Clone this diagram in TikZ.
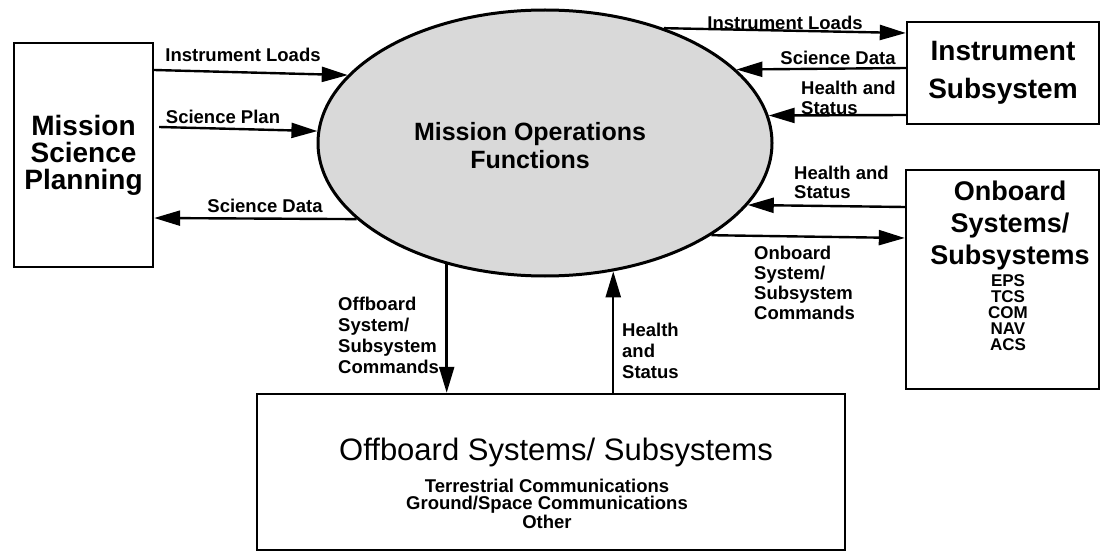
\documentclass[tikz,border=0pt]{standalone}
\usepackage{fontspec}
\setmainfont{Liberation Sans}
\usetikzlibrary{shapes.geometric,arrows.meta}
\begin{document}
\begin{tikzpicture}[x=1pt,y=-1pt,
  box/.style={draw,line width=2.4pt,inner sep=0pt},
  conn/.style={line width=2.4pt,-{Triangle[length=26pt,width=15pt]}},
  lbl/.style={font=\fontsize{18.5}{20}\selectfont\bfseries,inner sep=0pt,align=left},
  bigb/.style={font=\fontsize{28}{27}\selectfont\bfseries,align=center},
  smallb/.style={font=\fontsize{17}{16}\selectfont\bfseries,align=center,inner sep=0pt}
]
\useasboundingbox (0,0) rectangle (1103,559);

% main ellipse
\node[ellipse,draw,line width=3pt,fill=black!15,minimum width=454pt,minimum height=266pt,inner sep=0pt] (mof) at (545,143) {};
\node[font=\fontsize{25}{28}\selectfont\bfseries,align=center,inner sep=0pt] (moft) at (530,145.5) {Mission Operations\\Functions};

% boxes
\node[box,bigb,minimum width=139pt,minimum height=224pt] (msp) at (83.5,155) {Mission\\Science\\Planning};
\node[box,minimum width=192pt,minimum height=102pt,font=\fontsize{28}{38}\selectfont\bfseries,align=center] (inst) at (1003,73) {Instrument\\Subsystem};
\node[box,minimum width=193pt,minimum height=219pt] (onb) at (1002.5,279.5) {};
\node[font=\fontsize{27}{32}\selectfont\bfseries,align=center,inner sep=0pt] (onbt) at (1010,226) {Onboard\\Systems/\\Subsystems};
\node[smallb] (onbl) at (1008,313) {EPS\\TCS\\COM\\NAV\\ACS};
\node[box,minimum width=588pt,minimum height=156pt] (obx) at (551,472) {};
\node[font=\fontsize{31}{36}\selectfont,inner sep=0pt] (obxt) at (556,452) {Offboard Systems/ Subsystems};
\node[font=\fontsize{18.5}{17}\selectfont\bfseries,align=center,inner sep=0pt] (obxl) at (547,504) {Terrestrial Communications\\Ground/Space Communications\\Other};

% connectors
\draw[conn] (msp.east |- 0,70) -- (mof.161.2);
\draw[conn] ([xshift=5pt]msp.east |- 0,127) -- (mof.177.2);
\draw[conn] (mof.202.7) -- (msp.east |- 0,218);
\draw[conn] (mof.44.5) -- (inst.west |- 0,33);
\draw[conn] (inst.west |- 0,68) -- (mof.21.5);
\draw[conn] (inst.west |- 0,115) -- (mof.7.3);
\draw[conn] (onb.west |- 0,207) -- (mof.343.4);
\draw[conn] (mof.331.4) -- (onb.west |- 0,238);
\draw[conn] (mof.231.9) -- (mof.231.9 |- obx.north);
\draw[conn] (mof.298.2 |- obx.north) -- (mof.298.2);

% labels
\node[lbl] (l1) at (243,55) {Instrument Loads};
\node[lbl] (l2) at (223,117) {Science Plan};
\node[lbl] (l3) at (265,206) {Science Data};
\node[lbl] (l4) at (785,23) {Instrument Loads};
\node[lbl] (l5) at (838,58) {Science Data};
\node[lbl,anchor=west,font=\fontsize{18.5}{19.5}\selectfont\bfseries] (l6) at (801,98) {Health and\\Status};
\node[lbl,anchor=west,font=\fontsize{18.5}{19.5}\selectfont\bfseries] (l7) at (794,182.5) {Health and\\Status};
\node[lbl,anchor=west] (l8) at (754,282.5) {Onboard\\System/\\Subsystem\\Commands};
\node[lbl,anchor=west,font=\fontsize{18.5}{21}\selectfont\bfseries] (l9) at (338,335.5) {Offboard\\System/\\Subsystem\\Commands};
\node[lbl,anchor=west,font=\fontsize{18.5}{21}\selectfont\bfseries] (l10) at (622,351) {Health\\and\\Status};
\end{tikzpicture}
\end{document}
